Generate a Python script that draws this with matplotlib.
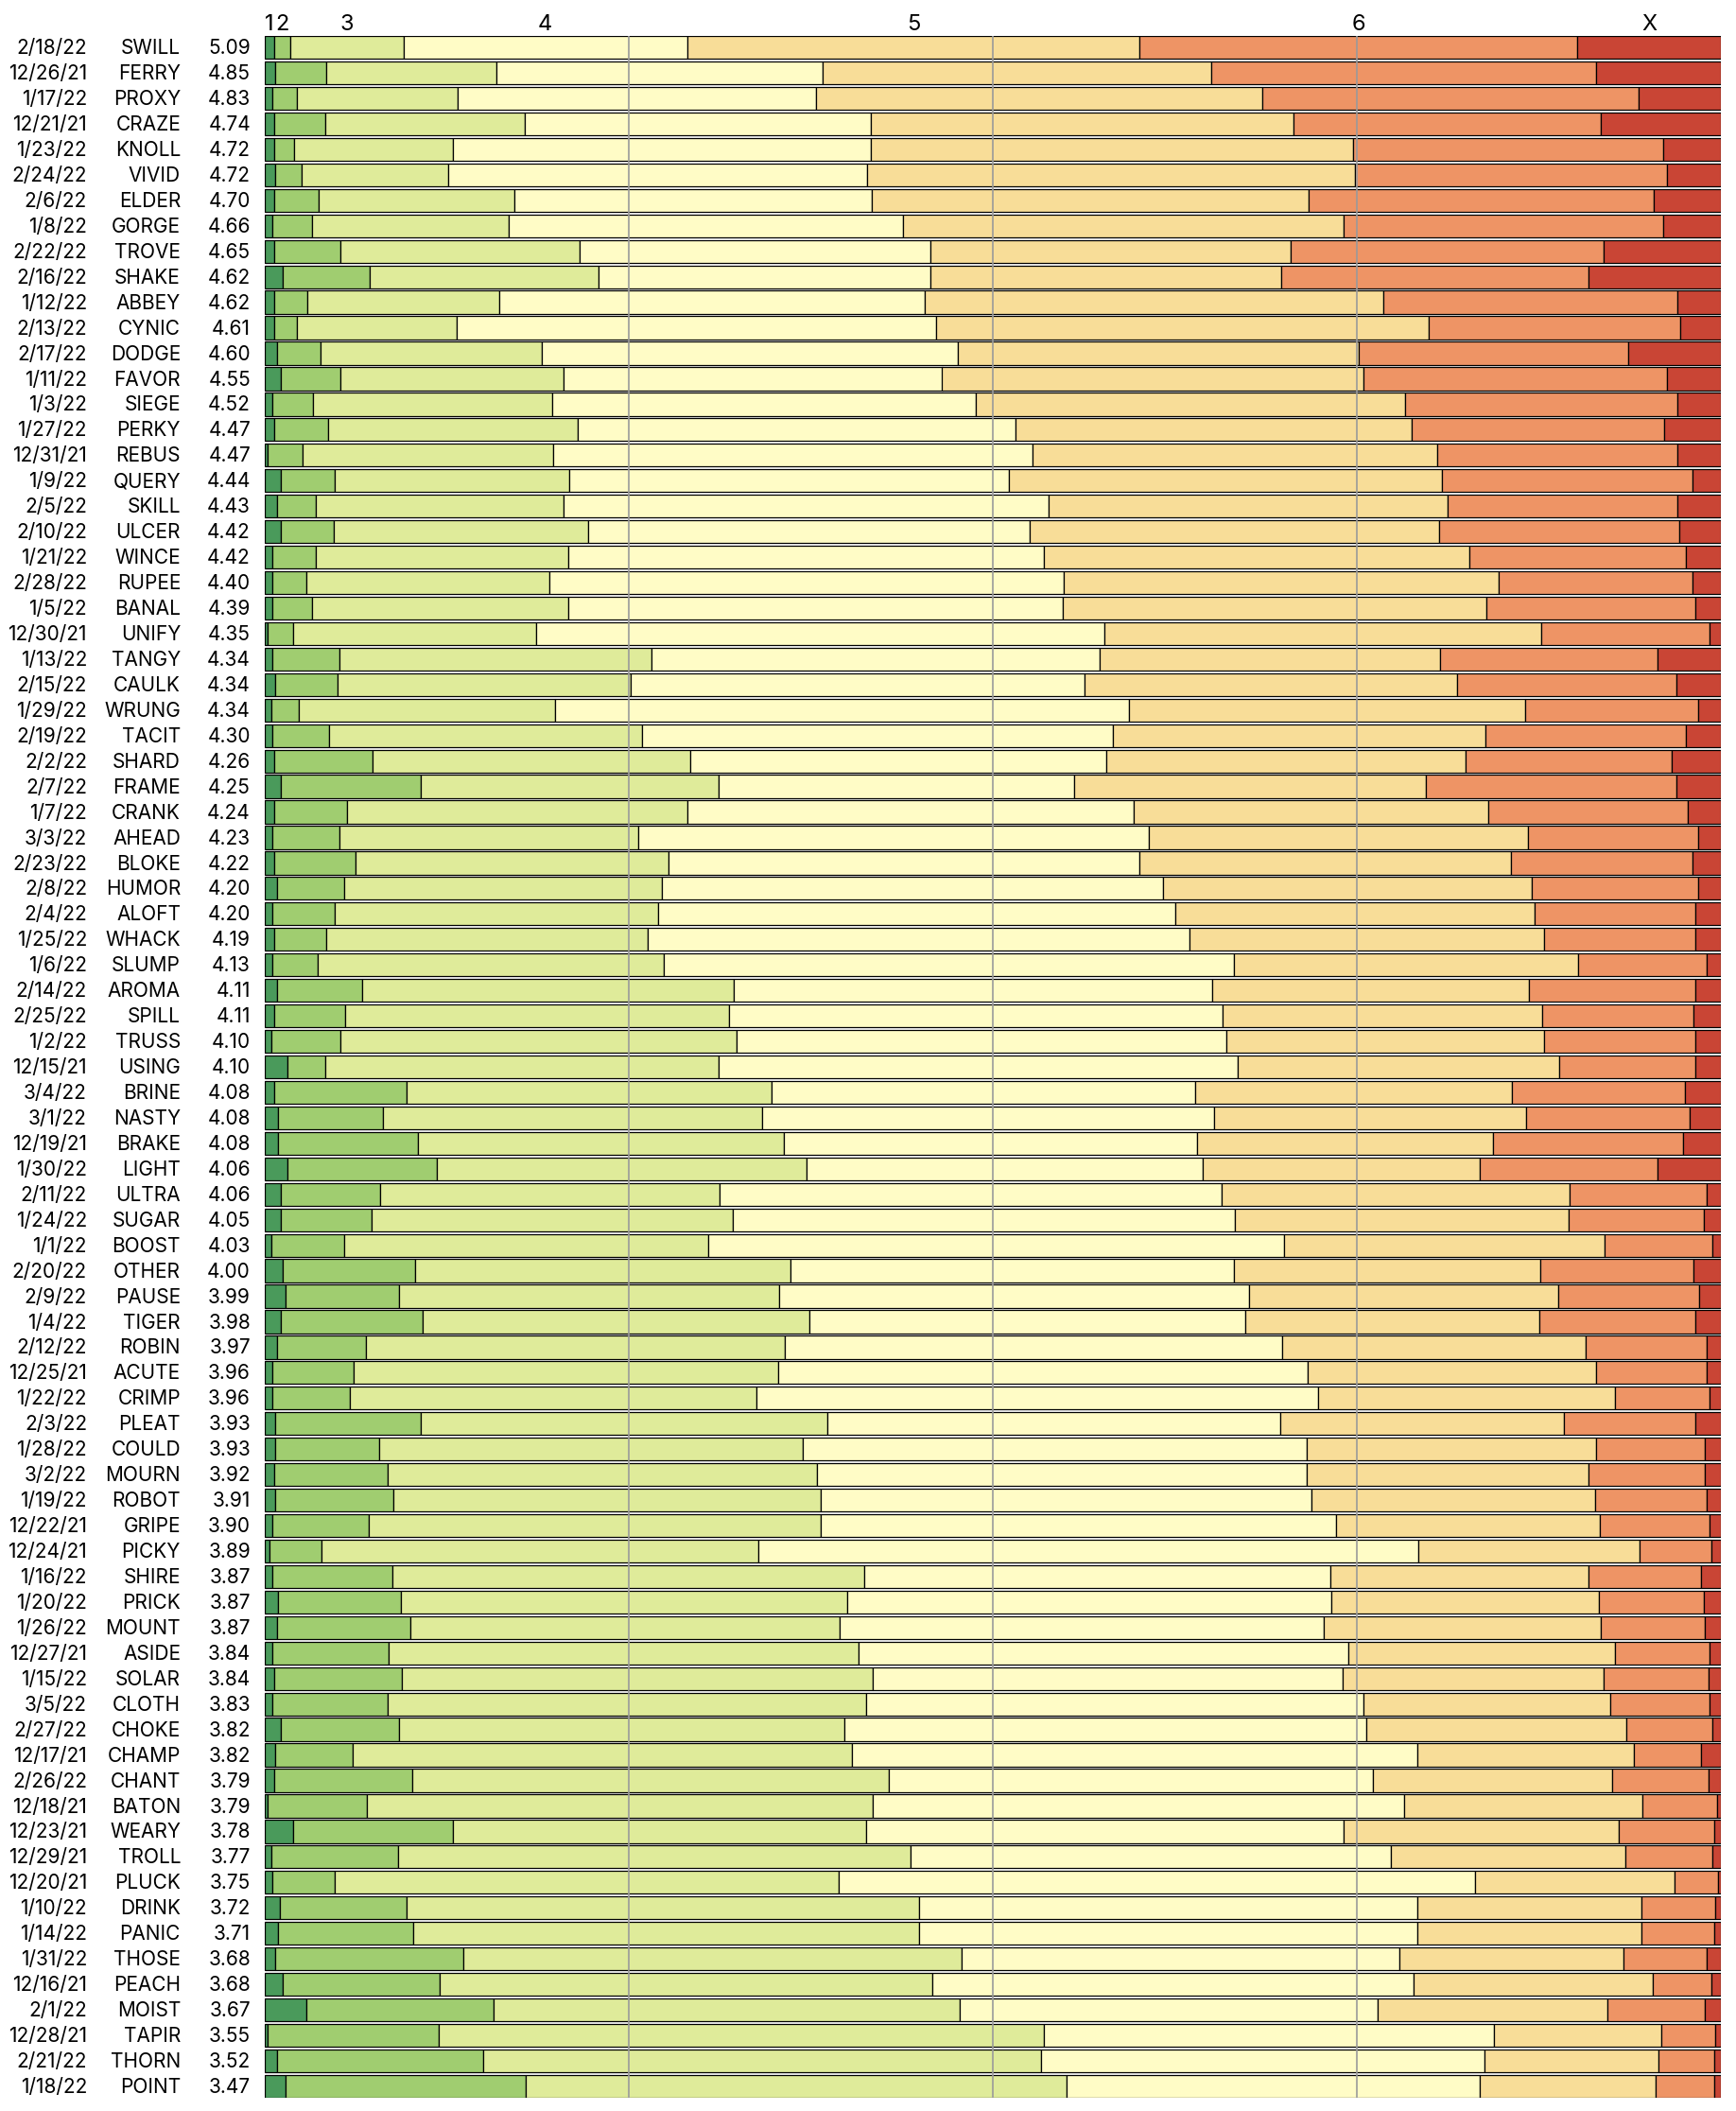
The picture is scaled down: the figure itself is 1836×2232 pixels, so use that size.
import numpy as np
import matplotlib.pyplot as plt
from matplotlib.transforms import blended_transform_factory

plt.rcParams['font.family'] = ['Inter', 'DejaVu Sans']

dates = ["2/18/22", "12/26/21", "1/17/22", "12/21/21", "1/23/22", "2/24/22", "2/6/22", "1/8/22", "2/22/22", "2/16/22",
         "1/12/22", "2/13/22", "2/17/22", "1/11/22", "1/3/22", "1/27/22", "12/31/21", "1/9/22", "2/5/22", "2/10/22",
         "1/21/22", "2/28/22", "1/5/22", "12/30/21", "1/13/22", "2/15/22", "1/29/22", "2/19/22", "2/2/22", "2/7/22",
         "1/7/22", "3/3/22", "2/23/22", "2/8/22", "2/4/22", "1/25/22", "1/6/22", "2/14/22", "2/25/22", "1/2/22",
         "12/15/21", "3/4/22", "3/1/22", "12/19/21", "1/30/22", "2/11/22", "1/24/22", "1/1/22", "2/20/22", "2/9/22",
         "1/4/22", "2/12/22", "12/25/21", "1/22/22", "2/3/22", "1/28/22", "3/2/22", "1/19/22", "12/22/21", "12/24/21",
         "1/16/22", "1/20/22", "1/26/22", "12/27/21", "1/15/22", "3/5/22", "2/27/22", "12/17/21", "2/26/22", "12/18/21",
         "12/23/21", "12/29/21", "12/20/21", "1/10/22", "1/14/22", "1/31/22", "12/16/21", "2/1/22", "12/28/21", "2/21/22",
         "1/18/22"]

words = ["SWILL", "FERRY", "PROXY", "CRAZE", "KNOLL", "VIVID", "ELDER", "GORGE", "TROVE", "SHAKE",
         "ABBEY", "CYNIC", "DODGE", "FAVOR", "SIEGE", "PERKY", "REBUS", "QUERY", "SKILL", "ULCER",
         "WINCE", "RUPEE", "BANAL", "UNIFY", "TANGY", "CAULK", "WRUNG", "TACIT", "SHARD", "FRAME",
         "CRANK", "AHEAD", "BLOKE", "HUMOR", "ALOFT", "WHACK", "SLUMP", "AROMA", "SPILL", "TRUSS",
         "USING", "BRINE", "NASTY", "BRAKE", "LIGHT", "ULTRA", "SUGAR", "BOOST", "OTHER", "PAUSE",
         "TIGER", "ROBIN", "ACUTE", "CRIMP", "PLEAT", "COULD", "MOURN", "ROBOT", "GRIPE", "PICKY",
         "SHIRE", "PRICK", "MOUNT", "ASIDE", "SOLAR", "CLOTH", "CHOKE", "CHAMP", "CHANT", "BATON",
         "WEARY", "TROLL", "PLUCK", "DRINK", "PANIC", "THOSE", "PEACH", "MOIST", "TAPIR", "THORN",
         "POINT"]

avg_score = [5.09, 4.85, 4.83, 4.74, 4.72, 4.72, 4.70, 4.66, 4.65, 4.62,
             4.62, 4.61, 4.60, 4.55, 4.52, 4.47, 4.47, 4.44, 4.43, 4.42,
             4.42, 4.40, 4.39, 4.35, 4.34, 4.34, 4.34, 4.30, 4.26, 4.25,
             4.24, 4.23, 4.22, 4.20, 4.20, 4.19, 4.13, 4.11, 4.11, 4.10,
             4.10, 4.08, 4.08, 4.08, 4.06, 4.06, 4.05, 4.03, 4.00, 3.99,
             3.98, 3.97, 3.96, 3.96, 3.93, 3.93, 3.92, 3.91, 3.90, 3.89,
             3.87, 3.87, 3.87, 3.84, 3.84, 3.83, 3.82, 3.82, 3.79, 3.79,
             3.78, 3.77, 3.75, 3.72, 3.71, 3.68, 3.68, 3.67, 3.55, 3.52,
             3.47]

# percent of players solving in 1..6 guesses, and X (failed)
pct_1 = [0.6, 0.7, 0.5, 0.6, 0.6, 0.7, 0.6, 0.5, 0.6, 1.2,
         0.6, 0.6, 0.8, 1.1, 0.5, 0.6, 0.2, 1.1, 0.8, 1.1,
         0.5, 0.5, 0.5, 0.2, 0.5, 0.7, 0.4, 0.5, 0.6, 1.1,
         0.6, 0.5, 0.6, 0.8, 0.5, 0.6, 0.5, 0.8, 0.6, 0.4,
         1.5, 0.6, 0.9, 0.9, 1.5, 1.1, 1.1, 0.4, 1.2, 1.4,
         1.1, 0.8, 0.5, 0.5, 0.7, 0.7, 0.6, 0.7, 0.5, 0.3,
         0.5, 0.9, 0.8, 0.5, 0.6, 0.5, 1.1, 0.7, 0.6, 0.2,
         1.9, 0.4, 0.5, 1.0, 0.9, 0.7, 1.2, 2.8, 0.2, 0.8,
         1.4]
pct_2 = [1.1, 3.5, 1.7, 3.5, 1.4, 1.8, 3.1, 2.7, 4.6, 6.0,
         2.3, 1.6, 3.0, 4.1, 2.8, 3.7, 2.4, 3.7, 2.7, 3.6,
         3.0, 2.3, 2.7, 1.7, 4.6, 4.3, 1.9, 3.9, 6.8, 9.6,
         5.0, 4.6, 5.6, 4.6, 4.3, 3.6, 3.1, 5.9, 4.9, 4.8,
         2.6, 9.1, 7.2, 9.6, 10.3, 6.8, 6.2, 5.0, 9.1, 7.8,
         9.7, 6.1, 5.6, 5.3, 10.0, 7.1, 7.8, 8.1, 6.6, 3.6,
         8.2, 8.4, 9.2, 8.0, 8.8, 7.9, 8.1, 5.3, 9.5, 6.8,
         11.0, 8.7, 4.3, 8.7, 9.3, 12.9, 10.8, 12.9, 11.7, 14.2,
         16.5]
pct_3 = [7.8, 11.7, 11.0, 13.7, 10.9, 10.1, 13.4, 13.5, 16.4, 15.7,
         13.2, 11.0, 15.2, 15.3, 16.4, 17.2, 17.2, 16.1, 17.0, 17.5,
         17.3, 16.7, 17.6, 16.7, 21.4, 20.1, 17.6, 21.5, 21.8, 20.5,
         23.4, 20.5, 21.5, 21.8, 22.2, 22.1, 23.8, 25.5, 26.3, 27.2,
         27.0, 25.1, 26.0, 25.1, 25.4, 23.3, 24.8, 25.0, 25.8, 26.1,
         26.6, 28.8, 29.2, 28.0, 27.9, 29.1, 29.5, 29.4, 31.0, 30.0,
         32.4, 30.7, 29.5, 32.2, 32.3, 32.9, 30.6, 34.3, 32.7, 34.7,
         28.3, 35.2, 34.6, 35.2, 34.7, 34.2, 33.8, 32.0, 41.6, 38.4,
         37.1]
pct_4 = [19.5, 22.4, 24.6, 23.8, 28.7, 28.8, 24.5, 27.0, 24.1, 22.8,
         29.2, 32.9, 28.6, 26.0, 29.1, 30.1, 32.9, 30.2, 33.3, 30.3,
         32.6, 35.3, 34.0, 39.1, 30.8, 31.1, 39.4, 32.4, 28.6, 24.4,
         30.7, 35.1, 32.3, 34.4, 35.6, 37.3, 39.1, 32.9, 33.9, 33.7,
         35.6, 29.1, 31.1, 28.4, 27.2, 34.5, 34.4, 39.6, 30.4, 32.3,
         29.9, 34.2, 36.4, 38.6, 31.1, 34.6, 33.6, 33.7, 35.4, 45.4,
         32.0, 33.2, 33.3, 33.6, 32.3, 34.1, 35.8, 38.8, 33.3, 36.5,
         32.8, 33.0, 43.8, 34.2, 34.2, 30.1, 33.0, 28.7, 30.9, 30.5,
         28.3]
pct_5 = [31.1, 26.7, 30.7, 29.0, 33.1, 33.5, 30.0, 30.2, 24.7, 24.1,
         31.5, 33.9, 27.5, 28.9, 29.5, 27.2, 27.8, 29.7, 27.4, 28.1,
         29.2, 29.8, 29.1, 30.0, 23.4, 25.6, 27.2, 25.6, 24.7, 24.2,
         24.4, 26.0, 25.5, 25.3, 24.7, 24.4, 23.7, 21.8, 21.9, 21.8,
         22.1, 21.7, 21.4, 20.3, 19.0, 23.9, 22.9, 22.0, 21.1, 21.2,
         20.2, 20.9, 19.8, 20.4, 19.5, 19.9, 19.4, 19.5, 18.1, 15.2,
         17.7, 18.4, 19.0, 18.3, 17.9, 17.0, 17.9, 14.9, 16.4, 16.4,
         18.9, 16.1, 13.7, 15.4, 15.4, 15.4, 16.4, 15.8, 11.5, 12.0,
         12.1]
pct_6 = [30.1, 26.4, 25.8, 21.1, 21.3, 21.5, 23.7, 21.9, 21.5, 21.1,
         20.2, 17.3, 18.5, 20.9, 18.7, 17.4, 16.5, 17.2, 15.8, 16.5,
         14.9, 13.3, 14.3, 11.6, 14.9, 15.0, 11.9, 13.8, 14.2, 17.2,
         13.7, 11.7, 12.4, 11.4, 11.0, 10.4, 8.8, 11.4, 10.4, 10.4,
         9.3, 11.9, 11.2, 13.1, 12.2, 9.4, 9.3, 7.4, 10.5, 9.7,
         10.7, 8.3, 7.6, 6.5, 9.0, 7.5, 8.0, 7.7, 7.5, 4.9,
         7.7, 7.2, 7.2, 6.5, 7.2, 6.8, 5.9, 4.6, 6.6, 5.1,
         6.5, 6.0, 3.0, 5.1, 5.0, 5.7, 4.0, 6.7, 3.7, 3.8,
         4.0]
pct_x = [9.9, 8.6, 5.7, 8.3, 4.0, 3.7, 4.6, 4.0, 8.1, 9.1,
         3.0, 2.8, 6.4, 3.7, 3.0, 3.9, 3.0, 2.0, 3.0, 2.9,
         2.4, 2.0, 1.8, 0.8, 4.4, 3.1, 1.6, 2.4, 3.4, 3.1,
         2.3, 1.6, 2.0, 1.6, 1.8, 1.8, 1.0, 1.8, 1.9, 1.8,
         1.8, 2.5, 2.2, 2.6, 4.4, 1.0, 1.2, 0.6, 1.9, 1.5,
         1.8, 1.0, 1.0, 0.8, 1.8, 1.1, 1.1, 1.0, 0.8, 0.7,
         1.4, 1.2, 1.1, 0.8, 0.9, 0.8, 0.6, 1.4, 0.9, 0.3,
         0.5, 0.6, 0.2, 0.4, 0.5, 1.0, 0.7, 1.1, 0.4, 0.5,
         0.5]

guess_labels = ["1", "2", "3", "4", "5", "6", "X"]
colors = ["#4a9a5b", "#a0cd70", "#dfeb9a", "#fffcc6", "#f8dd98", "#ee9465", "#c94535"]

data = np.array([pct_1, pct_2, pct_3, pct_4, pct_5, pct_6, pct_x])
data = data / data.sum(axis=0) * 100  # rows sum to 100%
n = data.shape[1]
y = np.arange(n)

W, H = 1836, 2232
fig = plt.figure(figsize=(W / 100, H / 100), dpi=100)
ax = fig.add_axes([280.4 / W, 1 - 2218 / H, 1540 / W, 2180 / H])

left = np.zeros(n)
for k in range(7):
    ax.barh(y, data[k], left=left, height=0.9, color=colors[k],
            edgecolor="black", linewidth=0.9, zorder=2)
    left += data[k]

for xv in [25, 50, 75]:
    ax.axvline(xv, color="#9a9a9a", lw=1.2, zorder=3)

ax.set_xlim(0, 100)
ax.set_ylim(n - 1 + 0.45, -0.45)
ax.axis("off")

# guess labels over the first row's segments
top = blended_transform_factory(ax.transData, fig.transFigure)
cum = 0
for k in range(7):
    ax.text(cum + data[k][0] / 2, 1 - 32 / H, guess_labels[k], transform=top,
            ha="center", va="baseline", fontsize=17)
    cum += data[k][0]

row = blended_transform_factory(fig.transFigure, ax.transData)
for i in range(n):
    ax.text(92 / W, i + 0.04, dates[i], transform=row, ha="right", va="center", fontsize=15)
    ax.text(191 / W, i + 0.04, words[i], transform=row, ha="right", va="center", fontsize=15)
    ax.text(265 / W, i + 0.04, "%.2f" % avg_score[i], transform=row, ha="right", va="center", fontsize=15)

fig.savefig("out.png", dpi=100, facecolor="white")
